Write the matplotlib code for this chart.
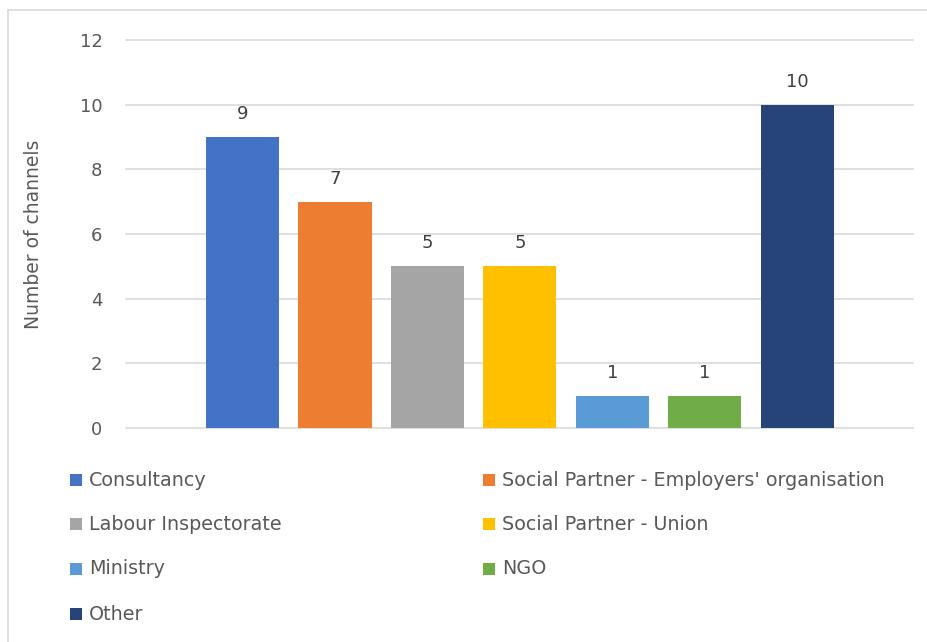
import matplotlib.pyplot as plt
from matplotlib.patches import Rectangle

categories = [
    "Consultancy",
    "Social Partner - Employers' organisation",
    "Labour Inspectorate",
    "Social Partner - Union",
    "Ministry",
    "NGO",
    "Other",
]
channels = [9, 7, 5, 5, 1, 1, 10]
colors = ["#4472C4", "#ED7D31", "#A5A5A5", "#FFC000", "#5B9BD5", "#70AD47", "#264478"]
yticks = [0, 2, 4, 6, 8, 10, 12]

W, H = 927, 642
fig = plt.figure(figsize=(W / 100, H / 100), dpi=100)
plt.rcParams["font.family"] = "DejaVu Sans"

# chart area outline
fig.patches.append(Rectangle((8 / W, -0.1), 1.2, 1 - 10 / H + 0.1, transform=fig.transFigure,
                             fill=False, edgecolor="#D9D9D9", linewidth=1.2))

ax = fig.add_axes([126 / W, 1 - 428 / H, (913 - 126) / W, (428 - 40) / H])
x = list(range(len(categories)))
bars = ax.bar(x, channels, width=0.79, color=colors, zorder=3)
ax.bar_label(bars, labels=[str(v) for v in channels], padding=10, fontsize=13, color="#404040")

ax.set_ylim(0, 12)
ax.set_xlim(-1.26, 7.25)
ax.set_yticks(yticks)
ax.set_xticks([])
ax.grid(axis="y", color="#D9D9D9", linewidth=1.2, zorder=0)
for gl in ax.get_ygridlines():
    gl.set_clip_on(False)
for s in ax.spines.values():
    s.set_visible(False)
ax.tick_params(axis="y", length=0, pad=17, labelsize=13, labelcolor="#595959")
ax.set_ylabel("Number of channels", fontsize=13.5, color="#595959", labelpad=26)

# legend laid out in two columns below the plot
col_x = [70, 483]
row_y = [480, 524, 569, 614]
for i, (name, c) in enumerate(zip(categories, colors)):
    cx = col_x[i % 2]
    cy = row_y[i // 2]
    fig.patches.append(Rectangle((cx / W, 1 - (cy + 6) / H), 12 / W, 12 / H,
                                 transform=fig.transFigure, facecolor=c, edgecolor="none"))
    fig.text((cx + 19) / W, 1 - cy / H, name, fontsize=13.8, color="#595959", va="center", ha="left")

fig.savefig("out.png", dpi=100)
